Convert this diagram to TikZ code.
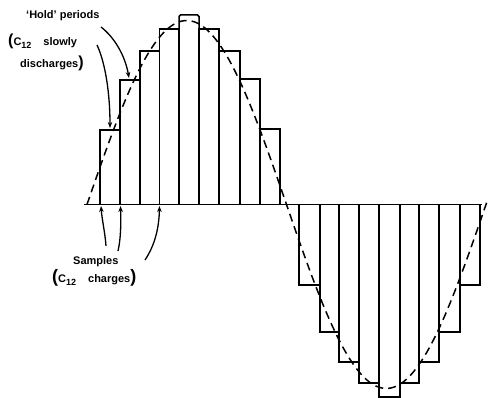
\documentclass[tikz,border=0pt]{standalone}
\usepackage{fontspec}
\setmainfont{Liberation Sans}
\usetikzlibrary{arrows.meta}
\newcommand{\bigparen}[1]{{\fontsize{16}{16}\selectfont #1}}
\newcommand{\Csub}{C\raisebox{-3pt}{\fontsize{9}{9}\selectfont 12}}
\begin{document}
\begin{tikzpicture}[x=1pt,y=-1pt,
  bar/.style={line width=1.5pt},
  wave/.style={line width=1.5pt, dash pattern=on 8pt off 5pt},
  lbl/.style={font=\bfseries\fontsize{11}{12}\selectfont, inner sep=0pt, anchor=west},
  pointer/.style={line width=1.3pt, -{Stealth[length=6pt,width=4.5pt]}}]
\useasboundingbox (0,0) rectangle (488,398);
% dashed sine
\draw[wave] plot[domain=87:488, samples=120] (\x, {204.5-184*sin(((\x-87)/199.5)*180)});
% positive bars
\foreach \a/\b/\t in {100/120/130, 120/140/80, 140/159.5/51, 159.5/179/29,
                      199/219/29, 219/240/51, 240/260/79, 260/280/129}
  \draw[bar] (\a,204.5) rectangle (\b,\t);
\draw[bar, rounded corners=1.5pt] (179,204.5) -- (179,15) -- (199,15) -- (199,204.5);
% negative bars
\foreach \a/\b/\t in {299/320/285, 320/339/332, 339/359/362, 359/379/383,
                      400/419/383, 419/439/362, 439/460/332, 460/480/285}
  \draw[bar] (\a,204.5) rectangle (\b,\t);
\draw[bar] (379,204.5) -- (379,397) -- (400,397) -- (400,204.5);
% baseline
\draw[bar] (84,204.5) -- (482,204.5);
% labels
\node[lbl] (hold) at (26,16) {‘Hold’ periods};
\node[lbl] (slow) at (8,41) {\bigparen{(}\Csub\hspace{12pt}slowly};
\node[lbl] (disc) at (20,63) {discharges\bigparen{)}};
\node[lbl] (samp) at (73,262) {Samples};
\node[lbl] (chg) at (52,278) {{\fontsize{18}{18}\selectfont(}\Csub\hspace{12pt}charges{\fontsize{18}{18}\selectfont)}};
% pointer ends
\coordinate (h0) at (101,27);
\coordinate (h1) at (129,78);
\coordinate (d0) at (97,45);
\coordinate (d1) at (110,128);
\coordinate (s1a) at (106,246);
\coordinate (s1b) at (101,206);
\coordinate (s2a) at (118,251);
\coordinate (s2b) at (120.5,206);
\coordinate (s3a) at (145,260);
\coordinate (s3b) at (159.5,206);
\draw[pointer] (h0) .. controls (114,37) and (125,55) .. (h1);
\draw[pointer] (d0) .. controls (105,62) and (110,92) .. (d1);
\draw[pointer] (s1a) .. controls (105,232) and (102,220) .. (s1b);
\draw[pointer] (s2a) .. controls (121,238) and (121,222) .. (s2b);
\draw[pointer] (s3a) .. controls (155,245) and (159,228) .. (s3b);
\end{tikzpicture}
\end{document}
